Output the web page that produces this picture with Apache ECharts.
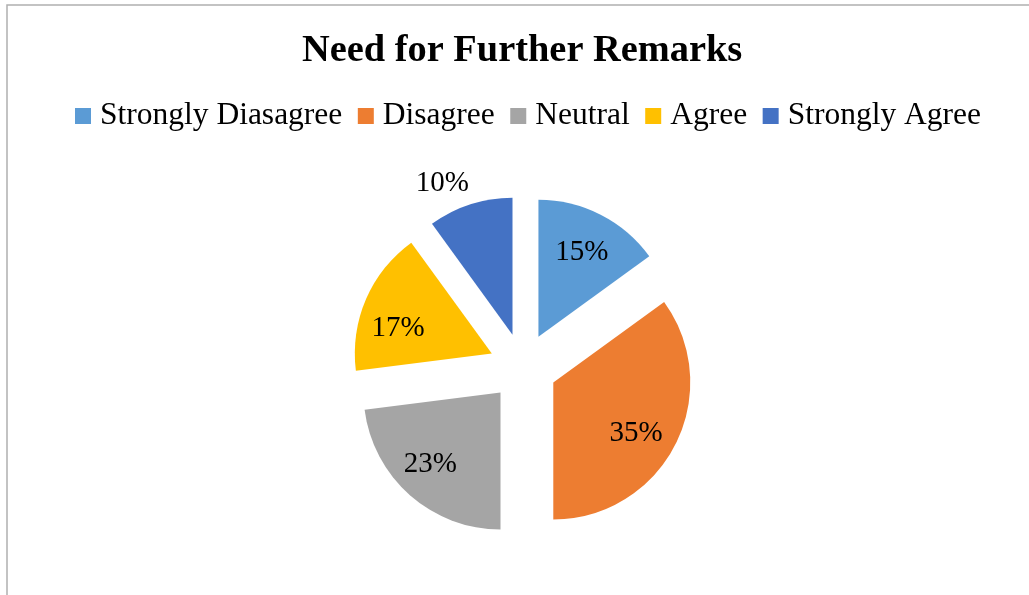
<!DOCTYPE html>
<html>
<head>
<meta charset="utf-8">
<script src="https://cdn.jsdelivr.net/npm/echarts@6/dist/echarts.min.js"></script>
<style>
  html, body { margin: 0; padding: 0; background: #ffffff; }
  #chart { width: 1029px; height: 595px; }
</style>
</head>
<body>
<div id="chart"></div>
<script>
// Survey responses: "Need for Further Remarks"
const categories = ['Strongly Diasagree', 'Disagree', 'Neutral', 'Agree', 'Strongly Agree'];
const shares = [15, 35, 23, 17, 10];
const colors = ['#5B9BD5', '#ED7D31', '#A5A5A5', '#FFC000', '#4472C4'];

// Nudges for each percentage label relative to its default inside spot
const labelNudges = [[11, -21], [19, 18], [-23, 18], [-28, 3], [-48, -83]];

const serif = '"Liberation Serif", "Times New Roman", serif';

const chart = echarts.init(document.getElementById('chart'), null, { renderer: 'canvas' });

chart.setOption({
  animation: false,
  backgroundColor: '#ffffff',
  color: colors,
  graphic: [{
    type: 'rect',
    shape: { x: 7, y: 5, width: 1200, height: 800 },
    style: { fill: 'none', stroke: '#b0b0b0', lineWidth: 1.5 },
    silent: true
  }],
  title: {
    text: 'Need for Further Remarks',
    left: 297,
    top: 27,
    textStyle: { fontFamily: serif, fontSize: 38.4, fontWeight: 'bold', color: '#000000' }
  },
  legend: {
    data: categories,
    left: 70,
    top: 95,
    icon: 'rect',
    itemWidth: 16,
    itemHeight: 16,
    itemGap: 15.5,
    selectedMode: false,
    textStyle: { fontFamily: serif, fontSize: 31.5, color: '#000000', padding: [0, 0, 0, 4] }
  },
  series: [{
    type: 'pie',
    center: [523, 367],
    radius: 137,
    startAngle: 90,
    clockwise: true,
    selectedMode: 'multiple',
    selectedOffset: 34,
    avoidLabelOverlap: false,
    silent: true,
    label: {
      show: true,
      position: 'inside',
      formatter: p => p.value + '%',
      fontFamily: serif,
      fontSize: 29,
      color: '#000000'
    },
    labelLine: { show: false },
    labelLayout: p => ({ dx: labelNudges[p.dataIndex][0], dy: labelNudges[p.dataIndex][1] }),
    itemStyle: { borderWidth: 0 },
    emphasis: { disabled: true },
    data: categories.map((name, i) => ({ name: name, value: shares[i], selected: true }))
  }]
});
</script>
</body>
</html>
